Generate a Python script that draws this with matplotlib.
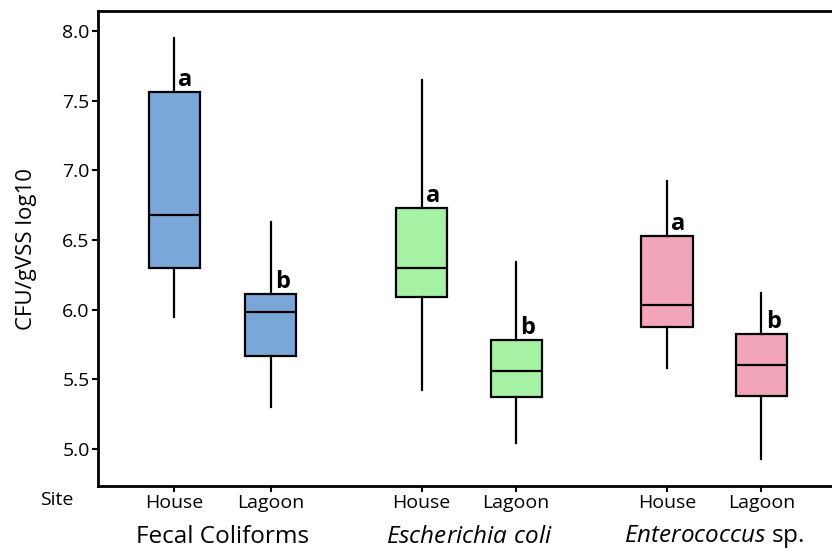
import matplotlib
matplotlib.use("Agg")
import matplotlib.pyplot as plt

plt.rcParams['font.family'] = ['Open Sans', 'DejaVu Sans']
plt.rcParams['mathtext.fontset'] = 'custom'
plt.rcParams['mathtext.rm'] = 'Open Sans'
plt.rcParams['mathtext.it'] = 'Open Sans:italic'

# box statistics, log10 CFU/gVSS: House then Lagoon for each indicator
groups = ['Fecal Coliforms', r'$\it{Escherichia\ coli}$', r'$\it{Enterococcus}$ sp.']
sites = ['House', 'Lagoon'] * 3
whislo = [5.95, 5.30, 5.42, 5.04, 5.58, 4.93]
q1 = [6.30, 5.67, 6.09, 5.37, 5.875, 5.38]
med = [6.68, 5.98, 6.30, 5.56, 6.03, 5.60]
q3 = [7.56, 6.11, 6.73, 5.78, 6.53, 5.825]
whishi = [7.95, 6.63, 7.65, 6.34, 6.92, 6.12]
letters = ['a', 'b', 'a', 'b', 'a', 'b']
colors = ['#7ba6d8', '#7ba6d8', '#a5f2a5', '#a5f2a5', '#f2a5b8', '#f2a5b8']

# x positions (House/Lagoon pairs with a wider gap between indicators)
pos = [1, 2, 3.5625, 4.5417, 6.104, 7.083]

fig = plt.figure(figsize=(8.32, 5.52), dpi=100)
ax = fig.add_axes([98 / 832, 66 / 552, (850 - 98) / 832, 475 / 552])

stats = []
for i in range(6):
    stats.append(dict(whislo=whislo[i], q1=q1[i], med=med[i], q3=q3[i],
                      whishi=whishi[i], fliers=[]))

bp = ax.bxp(stats, positions=pos, widths=0.53, patch_artist=True,
            showcaps=False, showfliers=False,
            boxprops=dict(linewidth=1.6, edgecolor='black'),
            medianprops=dict(linewidth=1.6, color='black'),
            whiskerprops=dict(linewidth=1.6, color='black'))
for patch, c in zip(bp['boxes'], colors):
    patch.set_facecolor(c)

for x, top, lab in zip(pos, q3, letters):
    ax.annotate(lab, (x, top), xytext=(3, 0), textcoords='offset points',
                ha='left', va='bottom', fontsize=17, fontweight='bold')

ax.set_xlim(0.21, 8.0)
ax.set_ylim(4.734, 8.144)
ax.set_yticks([5.0, 5.5, 6.0, 6.5, 7.0, 7.5, 8.0])
ax.set_yticklabels(['5.0', '5.5', '6.0', '6.5', '7.0', '7.5', '8.0'])
ax.set_xticks(pos)
ax.set_xticklabels(sites)
ax.tick_params(axis='both', labelsize=14, width=1.5, length=4, pad=2)

for s in ax.spines.values():
    s.set_linewidth(2)

ax.set_ylabel('CFU/gVSS log10', fontsize=16, labelpad=18)

fig.text(57 / 832, 1 - 500 / 552, 'Site', fontsize=14, ha='center', va='center')
for j, g in enumerate(groups):
    xc = (pos[2 * j] + pos[2 * j + 1]) / 2
    ax.text(xc, -0.107, g, transform=ax.get_xaxis_transform(),
            ha='center', va='center', fontsize=17.5)

fig.savefig('out.png', dpi=100)
